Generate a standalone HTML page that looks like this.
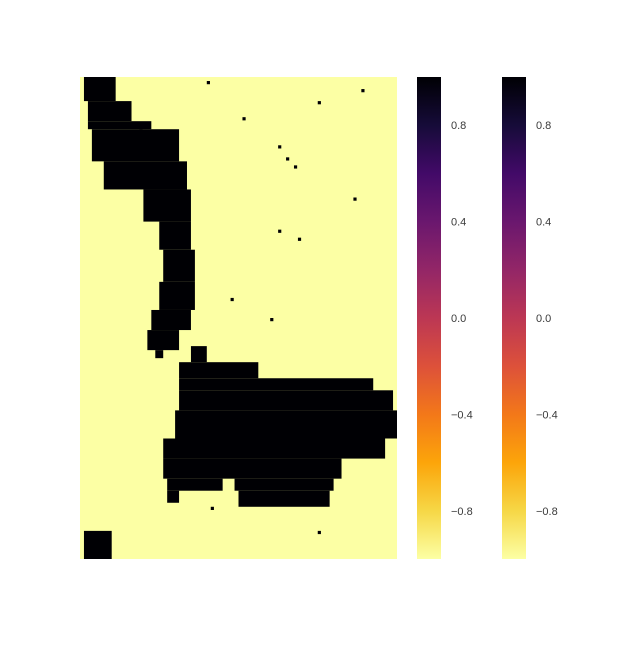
<!DOCTYPE html>
<html><head><meta charset="utf-8"><style>
body{margin:0;background:#fff;}
svg text{font-family:"Liberation Sans",sans-serif;font-size:11px;fill:#3a3a3a;}
</style></head><body>
<svg id="chart" width="640" height="640" xmlns="http://www.w3.org/2000/svg">
<defs>
<linearGradient id="inf" x1="0" y1="1" x2="0" y2="0">
<stop offset="0" stop-color="#fcffa4"/><stop offset="0.1" stop-color="#f6d746"/><stop offset="0.2" stop-color="#fca50a"/><stop offset="0.3" stop-color="#f37819"/><stop offset="0.4" stop-color="#dd513a"/><stop offset="0.5" stop-color="#bc3754"/><stop offset="0.6" stop-color="#932667"/><stop offset="0.7" stop-color="#6a176e"/><stop offset="0.8" stop-color="#420a68"/><stop offset="0.9" stop-color="#160b39"/><stop offset="1" stop-color="#000004"/>
</linearGradient>
</defs>
<g id="heat"></g>
<g id="cbars"></g>
</svg>
<script>
// grid: 80 cols x 120 rows; background value -1, spans value 1
const nCols = 80, nRows = 120;
const rowStart = [0,6,11,13,21,28,36,43,51,58,63,68,67,71,75,78,83,90,95,100,100,103,103,113];
const rowEnd   = [6,11,13,21,28,36,43,51,58,63,68,70,71,75,78,83,90,95,100,103,103,107,106,120];
const colStart = [1,2,2,3,6,16,20,21,20,18,17,19,28,25,25,25,24,21,21,22,39,40,22,1];
const colEnd   = [9,13,18,25,27,28,28,29,29,28,25,21,32,45,74,79,80,77,66,36,64,63,25,8];
const spanValues=[1,1,1,1,1,1,1,1,1,1,1,1,1,1,1,1,1,1,1,1,1,1,1,1];
const dotRows = [1,6,10,13,20,22,38,30,60,40,55,85,90,102,107,113,3,17];
const dotCols = [32,60,41,15,52,54,50,69,48,55,38,39,25,62,33,60,71,50];
const dotValues=[1,1,1,1,1,1,1,1,1,1,1,1,1,1,1,1,1,1];
const cbTicks = [0.8,0.4,0.0,-0.4,-0.8];
const cbLabels = ["0.8","0.4","0.0","\u22120.4","\u22120.8"];

const X0=80,X1=397,Y0=77,Y1=559;
const cw=(X1-X0)/nCols, ch=(Y1-Y0)/nRows;
const xs=c=>X0+c*cw, ys=r=>Y0+r*ch;
const vy=v=>Y0+(1-v)/2*(Y1-Y0);
const color=v=>v>0?"#000004":"#fcffa4";
const NS="http://www.w3.org/2000/svg";
const heat=document.getElementById('heat');
function rect(p,x,y,w,h,f){const r=document.createElementNS(NS,'rect');r.setAttribute('x',x);r.setAttribute('y',y);r.setAttribute('width',w);r.setAttribute('height',h);r.setAttribute('fill',f);p.appendChild(r);return r;}
const bg=rect(heat,xs(0),ys(0),xs(nCols)-xs(0),ys(nRows)-ys(0),color(-1));


for(let i=0;i<rowStart.length;i++){
  const r=rect(heat,xs(colStart[i]),ys(rowStart[i]),xs(colEnd[i])-xs(colStart[i]),ys(rowEnd[i])-ys(rowStart[i]),color(spanValues[i]));
  
  
}
for(let i=0;i<dotRows.length;i++){
  const r=rect(heat,xs(dotCols[i]),ys(dotRows[i]),cw*0.8,ch*0.8,color(dotValues[i]));
  
  
}
const cb=document.getElementById('cbars');
[417,502].forEach((x,k)=>{
  const g=document.createElementNS(NS,'g');
  
  
  cb.appendChild(g);
  rect(g,x,Y0,24,Y1-Y0,'url(#inf)');
  cbTicks.forEach((t,i)=>{
    const tx=document.createElementNS(NS,'text');
    tx.setAttribute('x',x+34);tx.setAttribute('y',vy(t)+4);
    tx.textContent=cbLabels[i];
    
    
    g.appendChild(tx);
  });
});
</script>
</body></html>
